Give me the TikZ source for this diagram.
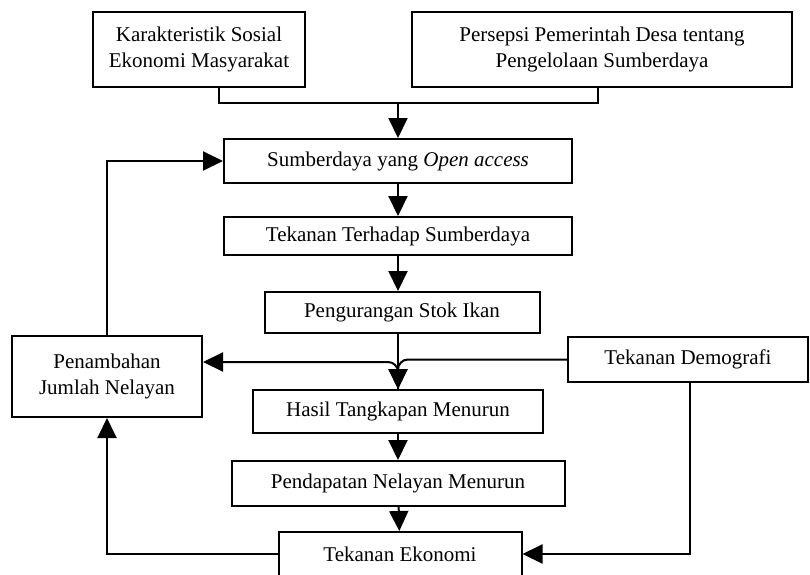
\documentclass[tikz,border=0pt]{standalone}
\usepackage{fontspec}
\setmainfont{Liberation Serif}
\usetikzlibrary{arrows.meta,positioning}

\begin{document}
\begin{tikzpicture}[->,>={Triangle[length=10pt,width=9.5pt]},x=0.5pt,y=-0.5pt,line width=1pt,font=\fontsize{10.5}{12.6}\selectfont]
  \tikzstyle{box}=[draw,rectangle,align=center,inner sep=0pt,line width=1pt]
  \path[clip] (0,0) rectangle (810,574);

  \node[box,minimum width=106pt,minimum height=37.5pt]   (K)  at (199,49.5)  {Karakteristik Sosial\\Ekonomi Masyarakat};
  \node[box,minimum width=190pt,minimum height=37.5pt]   (P)  at (602,49.5)  {Persepsi Pemerintah Desa tentang\\Pengelolaan Sumberdaya};
  \node[box,minimum width=174pt,minimum height=22pt]     (OA) at (398,161)   {Sumberdaya yang \textit{Open access}};
  \node[box,minimum width=174pt,minimum height=19pt]     (TT) at (398,236)   {Tekanan Terhadap Sumberdaya};
  \node[box,minimum width=137.5pt,minimum height=20.5pt] (PS) at (402,312.5) {Pengurangan Stok Ikan};
  \node[box,minimum width=95pt,minimum height=40.5pt]    (PJ) at (107,376.5) {Penambahan\\Jumlah Nelayan};
  \node[box,minimum width=120pt,minimum height=22.5pt]   (TD) at (688,359.5) {Tekanan Demografi};
  \node[box,minimum width=145pt,minimum height=21.5pt]   (HT) at (398,411.5) {Hasil Tangkapan Menurun};
  \node[box,minimum width=166.5pt,minimum height=22.5pt] (PN) at (398,483.5) {Pendapatan Nelayan Menurun};
  \node[box,minimum width=121.5pt,minimum height=22pt]   (TE) at (400,554)   {Tekanan Ekonomi};

  \coordinate (join) at (398,103);
  \coordinate (mid)  at (398,362);

  \draw[-] ([xshift=10pt]K.south) |- (join) -| ([xshift=-2pt]P.south);
  \draw (join) -- (join |- OA.north);
  \draw (OA) -- (TT);
  \draw (TT.south) -- (TT.south |- PS.north);
  \draw (PS.south -| mid) -- (HT.north);
  \draw[rounded corners=5pt] (TD.west) -| (HT.north);
  \draw[rounded corners=5pt] (HT.north) |- (PJ.east |- mid);
  \draw (HT) -- (PN);
  \draw (PN) -- (TE);
  \draw (PJ.north) |- (OA.west);
  \draw (TE.west) -| (PJ.south);
  \draw ([xshift=1pt]TD.south) |- (TE.east);
\end{tikzpicture}
\end{document}
